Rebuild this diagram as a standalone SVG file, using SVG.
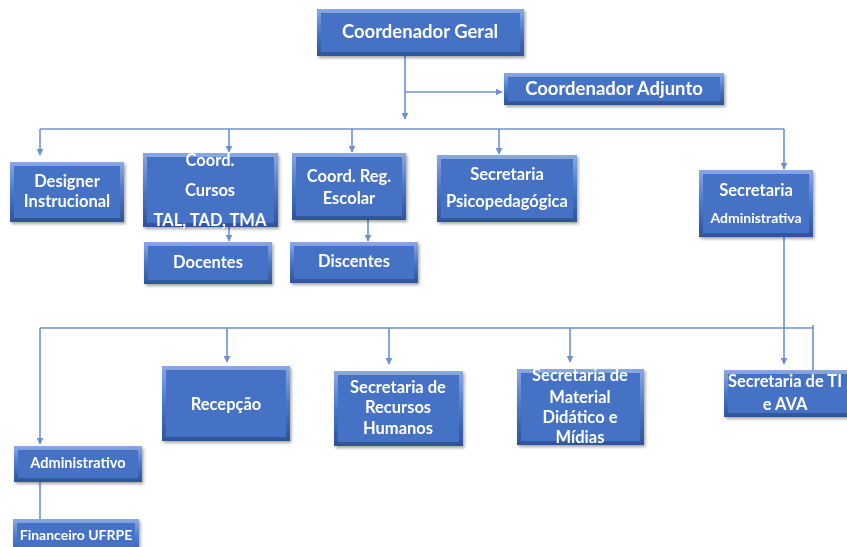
<svg xmlns="http://www.w3.org/2000/svg" width="847" height="547" viewBox="0 0 847 547">
  <style>
    .edge { fill: none; stroke: #6E90D2; stroke-width: 1.6; }
    .outer { fill: url(#bevel); }
    .face { fill: #4472C4; }
    .lbl { fill: #FFFFFF; font-family: Lato, "Open Sans", "Liberation Sans", sans-serif; font-weight: bold; text-anchor: middle; }
    .big { font-size: 18.5px; }
    .mid { font-size: 16.5px; }
    .sm { font-size: 14px; }
  </style>
  <defs>
    <linearGradient id="bevel" x1="0" y1="0" x2="0" y2="1">
      <stop offset="0" stop-color="#8AA9E2"/>
      <stop offset="0.5" stop-color="#4A78C8"/>
      <stop offset="1" stop-color="#2E5496"/>
    </linearGradient>
    <filter id="shadow" x="-10%" y="-10%" width="130%" height="140%">
      <feDropShadow dx="1.5" dy="2" stdDeviation="1.5" flood-color="#000" flood-opacity="0.35"/>
    </filter>
    <marker id="arrow" viewBox="0 0 10 10" refX="9" refY="5" markerWidth="7" markerHeight="7" markerUnits="userSpaceOnUse" orient="auto">
      <path d="M0,0 L10,5 L0,10 z" fill="#6E90D2"/>
    </marker>
  </defs>
  <rect width="847" height="547" fill="#FFFFFF"/>

  <!-- connectors -->
  <g id="connectors">
    <path class="edge" d="M405,56 V119" marker-end="url(#arrow)"/>
    <path class="edge" d="M405,92 H502" marker-end="url(#arrow)"/>
    <path class="edge" d="M40,129 H784"/>
    <path class="edge" d="M40,129 V155" marker-end="url(#arrow)"/>
    <path class="edge" d="M229,129 V152" marker-end="url(#arrow)"/>
    <path class="edge" d="M352,129 V152" marker-end="url(#arrow)"/>
    <path class="edge" d="M499,129 V154" marker-end="url(#arrow)"/>
    <path class="edge" d="M784,129 V169" marker-end="url(#arrow)"/>
    <path class="edge" d="M229,223 V241" marker-end="url(#arrow)"/>
    <path class="edge" d="M368,220 V241" marker-end="url(#arrow)"/>
    <path class="edge" d="M784,237 V364" marker-end="url(#arrow)"/>
    <path class="edge" d="M40,328 H813"/>
    <path class="edge" d="M813,325 V373"/>
    <path class="edge" d="M40,328 V444" marker-end="url(#arrow)"/>
    <path class="edge" d="M227,328 V362" marker-end="url(#arrow)"/>
    <path class="edge" d="M389,328 V364" marker-end="url(#arrow)"/>
    <path class="edge" d="M570,328 V362" marker-end="url(#arrow)"/>
    <path class="edge" d="M40,482 V520"/>
  </g>

  <g id="coord-geral" filter="url(#shadow)">
    <rect class="outer" x="317" y="9" width="207" height="47"/>
    <rect class="face" x="321" y="13" width="199" height="39"/>
    <text class="lbl big" x="420" y="38">Coordenador Geral</text>
  </g>

  <g id="coord-adjunto" filter="url(#shadow)">
    <rect class="outer" x="504" y="73" width="220" height="32"/>
    <rect class="face" x="508" y="77" width="212" height="24"/>
    <text class="lbl big" x="614" y="95">Coordenador Adjunto</text>
  </g>

  <g id="designer" filter="url(#shadow)">
    <rect class="outer" x="10" y="162" width="114" height="60"/>
    <rect class="face" x="14" y="166" width="106" height="52"/>
    <text class="lbl mid" x="67" y="187">Designer</text>
    <text class="lbl mid" x="67" y="207">Instrucional</text>
  </g>

  <g id="coord-cursos" filter="url(#shadow)">
    <rect class="outer" x="143" y="153" width="135" height="74"/>
    <rect class="face" x="147" y="157" width="127" height="66"/>
    <text class="lbl mid" x="210" y="166">Coord.</text>
    <text class="lbl mid" x="210" y="196">Cursos</text>
    <text class="lbl mid" x="210" y="226">TAL, TAD, TMA</text>
  </g>

  <g id="coord-reg" filter="url(#shadow)">
    <rect class="outer" x="292" y="153" width="114" height="67"/>
    <rect class="face" x="296" y="157" width="106" height="59"/>
    <text class="lbl mid" x="349" y="182">Coord. Reg.</text>
    <text class="lbl mid" x="349" y="204">Escolar</text>
  </g>

  <g id="docentes" filter="url(#shadow)">
    <rect class="outer" x="144" y="242" width="128" height="42"/>
    <rect class="face" x="148" y="246" width="120" height="34"/>
    <text class="lbl mid" x="208" y="268">Docentes</text>
  </g>

  <g id="discentes" filter="url(#shadow)">
    <rect class="outer" x="290" y="242" width="128" height="41"/>
    <rect class="face" x="294" y="246" width="120" height="33"/>
    <text class="lbl mid" x="354" y="267">Discentes</text>
  </g>

  <g id="sec-psico" filter="url(#shadow)">
    <rect class="outer" x="437" y="155" width="140" height="67"/>
    <rect class="face" x="441" y="159" width="132" height="59"/>
    <text class="lbl mid" x="507" y="180">Secretaria</text>
    <text class="lbl mid" x="507" y="207">Psicopedagógica</text>
  </g>

  <g id="sec-adm" filter="url(#shadow)">
    <rect class="outer" x="699" y="170" width="114" height="67"/>
    <rect class="face" x="703" y="174" width="106" height="59"/>
    <text class="lbl mid" x="756" y="196">Secretaria</text>
    <text class="lbl sm" x="756" y="223">Administrativa</text>
  </g>

  <g id="recepcao" filter="url(#shadow)">
    <rect class="outer" x="162" y="366" width="128" height="75"/>
    <rect class="face" x="166" y="370" width="120" height="67"/>
    <text class="lbl mid" x="226" y="410">Recepção</text>
  </g>

  <g id="sec-rh" filter="url(#shadow)">
    <rect class="outer" x="334" y="371" width="129" height="75"/>
    <rect class="face" x="338" y="375" width="121" height="67"/>
    <text class="lbl mid" x="398" y="393">Secretaria de</text>
    <text class="lbl mid" x="398" y="413">Recursos</text>
    <text class="lbl mid" x="398" y="434">Humanos</text>
  </g>

  <g id="sec-material" filter="url(#shadow)">
    <rect class="outer" x="517" y="369" width="127" height="76"/>
    <rect class="face" x="521" y="373" width="119" height="68"/>
    <text class="lbl mid" x="580" y="381">Secretaria de</text>
    <text class="lbl mid" x="580" y="403">Material</text>
    <text class="lbl mid" x="580" y="423">Didático e</text>
    <text class="lbl mid" x="580" y="443">Mídias</text>
  </g>

  <g id="sec-ti" filter="url(#shadow)">
    <rect class="outer" x="724" y="370" width="123" height="47"/>
    <rect class="face" x="728" y="374" width="119" height="39"/>
    <text class="lbl mid" x="785" y="387">Secretaria de TI</text>
    <text class="lbl mid" x="785" y="410">e AVA</text>
  </g>

  <g id="administrativo" filter="url(#shadow)">
    <rect class="outer" x="14" y="446" width="128" height="36"/>
    <rect class="face" x="18" y="450" width="120" height="28"/>
    <text class="lbl sm" x="78" y="468" style="font-size:14.5px">Administrativo</text>
  </g>

  <g id="financeiro" filter="url(#shadow)">
    <rect class="outer" x="13" y="519" width="126" height="40"/>
    <rect class="face" x="17" y="523" width="118" height="32"/>
    <text class="lbl sm" x="76" y="540">Financeiro UFRPE</text>
  </g>
</svg>
